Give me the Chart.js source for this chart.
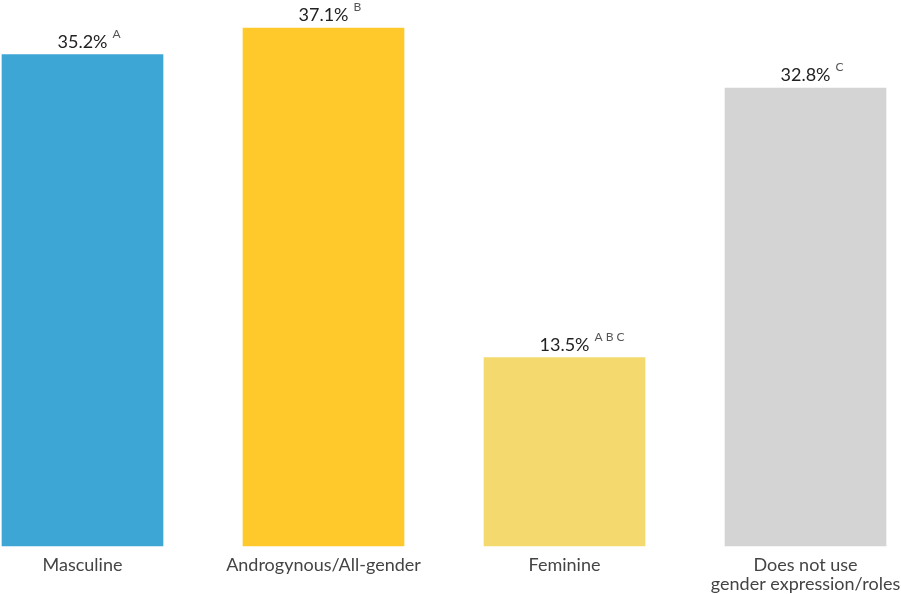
<!DOCTYPE html>
<html>
<head>
<meta charset="utf-8">
<script src="https://cdn.jsdelivr.net/npm/chart.js@4"></script>
<style>
  html, body { margin: 0; padding: 0; background: #fff; }
  #wrap { width: 901px; height: 594px; }
</style>
</head>
<body>
<div id="wrap"><canvas id="genderChart"></canvas></div>
<script>
var categories = ['Masculine', 'Androgynous/All-gender', 'Feminine', ['Does not use', 'gender expression/roles']];
var percents = [35.2, 37.1, 13.5, 32.8];
var sigLetters = ['A', 'B', 'A B C', 'C'];
var barColors = ['#3ea6d5', '#ffc82b', '#f3d96e', '#d4d4d4'];

// writes "xx.x%" above each bar with the significance letters raised after it
const valueLabels = {
    id: 'valueLabels',
    afterDatasetsDraw(chart) {
        const ctx = chart.ctx;
        const meta = chart.getDatasetMeta(0);
        ctx.save();
        meta.data.forEach(function (bar, i) {
            const txt = percents[i].toFixed(1) + '%';
            ctx.font = '18px Lato';
            ctx.fillStyle = '#222';
            ctx.textAlign = 'center';
            ctx.textBaseline = 'alphabetic';
            const w = ctx.measureText(txt).width;
            ctx.fillText(txt, bar.x, bar.y - 7);
            ctx.font = '12px Lato';
            ctx.fillStyle = '#555';
            ctx.textAlign = 'left';
            ctx.fillText(sigLetters[i], bar.x + w / 2 + 5, bar.y - 17);
        });
        ctx.restore();
    }
};

const ctx = document.getElementById('genderChart').getContext('2d');
var barChart = new Chart(ctx, {
    type: 'bar',
    data: {
        labels: categories,
        datasets: [
            {
                data: percents,
                backgroundColor: barColors,
                barThickness: 161,
                clip: false
            }
        ]
    },
    options: {
        responsive: true,
        maintainAspectRatio: false,
        animation: false,
        layout: {
            padding: { top: 28, left: 82.5, right: 95.5, bottom: 0 }
        },
        plugins: {
            legend: { display: false },
            tooltip: { enabled: false }
        },
        scales: {
            x: {
                offset: false,
                grid: { display: false, drawTicks: false },
                border: { display: false },
                afterFit(scale) {
                    scale.height = 48;
                    // edge labels may run up to the canvas edge
                    scale.paddingLeft = 0;
                    scale.paddingRight = 0;
                },
                ticks: {
                    autoSkip: false,
                    maxRotation: 0,
                    padding: 10,
                    color: '#444',
                    font: { family: 'Lato', size: 18, lineHeight: 1.05 }
                }
            },
            y: {
                display: false,
                min: 0,
                max: 37.1
            }
        }
    },
    plugins: [valueLabels]
});
</script>
</body>
</html>
